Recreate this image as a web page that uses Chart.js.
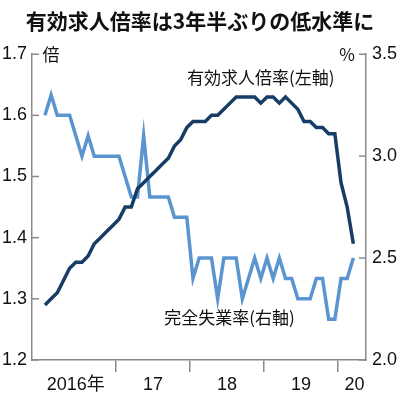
<!DOCTYPE html>
<html>
<head>
<meta charset="utf-8">
<script src="https://cdn.jsdelivr.net/npm/chart.js@4.4.1/dist/chart.umd.min.js"></script>
<style>
body{margin:0;background:#fff}
#wrap{width:400px;height:399px}
</style>
</head>
<body>
<div id="wrap"><canvas id="myChart" width="400" height="399"></canvas></div>
<script>
// monthly, Jan 2016 .. Mar 2020
var jobRatio = [1.29,1.30,1.31,1.33,1.35,1.36,1.36,1.37,1.39,1.40,1.41,1.42,
                1.43,1.45,1.45,1.48,1.49,1.50,1.51,1.52,1.53,1.55,1.56,1.58,
                1.59,1.59,1.59,1.60,1.60,1.61,1.62,1.63,1.63,1.63,1.63,1.62,
                1.63,1.63,1.62,1.63,1.62,1.61,1.59,1.59,1.58,1.58,1.57,1.57,
                1.49,1.45,1.39];
var unemployment = [3.2,3.3,3.2,3.2,3.2,3.1,3.0,3.1,3.0,3.0,3.0,3.0,
                    3.0,2.9,2.8,2.8,3.1,2.8,2.8,2.8,2.8,2.7,2.7,2.7,
                    2.4,2.5,2.5,2.5,2.3,2.5,2.5,2.5,2.3,2.4,2.5,2.4,
                    2.5,2.4,2.5,2.4,2.4,2.3,2.3,2.3,2.4,2.4,2.2,2.2,
                    2.4,2.4,2.5];
var yearLabels = ['2016年','17','18','19','20'];
var yearLabelAt = [5, 17.5, 29.5, 41.5, 50.2];   // month index of label centre
var yearBreaks = [11.5, 23.5, 35.5, 47.5];        // month index of year boundary
var leftTicks = [1.2,1.3,1.4,1.5,1.6,1.7];
var rightTicks = [2.0,2.5,3.0,3.5];

var axisGray = '#8a8a8a';
var numFont = "'Liberation Sans Narrow','Liberation Sans','Noto Sans CJK JP',sans-serif";
var jpFont = "'Noto Sans CJK JP',sans-serif";

function pts(arr){
  var out=[];
  for (var i=0;i<arr.length;i++){ out.push({x:i,y:arr[i]}); }
  return out;
}

var extras = {
  id:'extras',
  beforeDatasetsDraw: function(chart){
    var c=chart.ctx, a=chart.chartArea, yl=chart.scales.y, yr=chart.scales.y1;
    c.save();
    c.strokeStyle=axisGray; c.lineWidth=1.5;
    leftTicks.forEach(function(v){
      var py=yl.getPixelForValue(v);
      c.beginPath(); c.moveTo(a.left,py); c.lineTo(a.left+7,py); c.stroke();
    });
    rightTicks.forEach(function(v){
      var py=yr.getPixelForValue(v);
      c.beginPath(); c.moveTo(a.right,py); c.lineTo(a.right-7,py); c.stroke();
    });
    c.restore();
  },
  afterDraw: function(chart){
    var c=chart.ctx, a=chart.chartArea, xs=chart.scales.x, yl=chart.scales.y;
    c.save();
    c.fillStyle='#111';
    c.textBaseline='middle';
    c.font='17px '+jpFont;
    c.textAlign='center';
    c.fillText('倍', a.left+19, a.top);
    c.fillText('%', a.right-19, a.top);
    c.font='17px '+jpFont;
    c.fillText('有効求人倍率(左軸)', xs.getPixelForValue(35.0), yl.getPixelForValue(1.662));
    c.fillText('完全失業率(右軸)', xs.getPixelForValue(29.9), yl.getPixelForValue(1.269));
    c.restore();
  }
};

var ctx = document.getElementById('myChart').getContext('2d');
var myChart = new Chart(ctx, {
  type:'line',
  data:{
    datasets:[{
      label:'有効求人倍率',
      data:pts(jobRatio),
      borderColor:'#173d66',
      borderWidth:3.5,
      pointRadius:0,
      borderJoinStyle:'miter',
      yAxisID:'y'
    },{
      label:'完全失業率',
      data:pts(unemployment),
      borderColor:'#5b95cf',
      borderWidth:3.5,
      pointRadius:0,
      borderJoinStyle:'miter',
      yAxisID:'y1'
    }]
  },
  options:{
    responsive:false,
    animation:false,
    events:[],
    layout:{padding:{top:0,left:0,right:0,bottom:0}},
    plugins:{
      legend:{display:false},
      tooltip:{enabled:false},
      title:{
        display:true,
        text:'有効求人倍率は3年半ぶりの低水準に',
        color:'#111',
        font:{family:jpFont,size:21,weight:'bold',lineHeight:1.2},
        padding:{top:8,bottom:21}
      }
    },
    scales:{
      x:{
        type:'linear', min:-2.1, max:52.05,
        afterBuildTicks:function(s){
          var t=yearBreaks.concat(yearLabelAt).sort(function(p,q){return p-q;});
          s.ticks=t.map(function(v){return {value:v};});
        },
        afterFit:function(s){ s.height=39; },
        grid:{
          drawOnChartArea:false, drawTicks:true, tickLength:12, lineWidth:1.5,
          tickColor:function(c){ return (c.tick && yearBreaks.indexOf(c.tick.value)>=0) ? axisGray : 'rgba(0,0,0,0)'; }
        },
        border:{color:axisGray,width:1.5},
        ticks:{
          autoSkip:false, maxRotation:0, padding:2, color:'#111',
          font:{family:numFont,size:18},
          callback:function(v){ var k=yearLabelAt.indexOf(v); return k>=0 ? yearLabels[k] : ''; }
        }
      },
      y:{
        position:'left', min:1.2, max:1.7,
        afterBuildTicks:function(s){ s.ticks=leftTicks.map(function(v){return {value:v};}); },
        afterFit:function(s){ s.width=32; },
        grid:{drawOnChartArea:false, drawTicks:false},
        border:{color:axisGray,width:1.5},
        ticks:{padding:5,color:'#111',font:{family:numFont,size:18},
          callback:function(v){ return v.toFixed(1); }}
      },
      y1:{
        position:'right', min:2.0, max:3.5,
        afterBuildTicks:function(s){ s.ticks=rightTicks.map(function(v){return {value:v};}); },
        afterFit:function(s){ s.width=34; },
        grid:{drawOnChartArea:false, drawTicks:false},
        border:{color:axisGray,width:1.5},
        ticks:{padding:6,color:'#111',font:{family:numFont,size:18},
          callback:function(v){ return v.toFixed(1); }}
      }
    }
  },
  plugins:[extras]
});
</script>
</body>
</html>
